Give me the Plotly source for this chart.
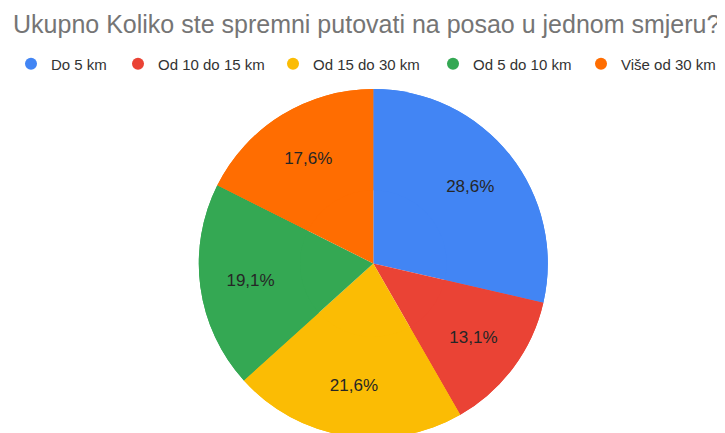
import plotly.graph_objects as go

labels = ["Do 5 km", "Od 10 do 15 km", "Od 15 do 30 km", "Od 5 do 10 km", "Više od 30 km"]
values = [28.6, 13.1, 21.6, 19.1, 17.6]
colors = ["#4285F4", "#EA4335", "#FBBC04", "#34A853", "#FF6D01"]
title = "Ukupno Koliko ste spremni putovati na posao u jednom smjeru?"

W, H = 725, 433
# page is offset by the default 8px body margin
OFF = 8
cx, cy, r = 373.3 - OFF, 263.5 - OFF, 174.5
dom = dict(x=[(cx - r) / W, (cx + r) / W], y=[(H - (cy + r)) / H, (H - (cy - r)) / H])

fig = go.Figure()
# full pie (colours)
fig.add_trace(go.Pie(
    labels=labels, values=values, sort=False, direction="clockwise", rotation=0,
    marker=dict(colors=colors, line=dict(width=0)),
    textinfo="none", showlegend=False, hoverinfo="label+percent", domain=dom,
))
# ring overlay carrying the percentage labels further out
fig.add_trace(go.Pie(
    labels=labels, values=values, sort=False, direction="clockwise", rotation=0,
    hole=0.42,
    marker=dict(colors=colors, line=dict(width=0)),
    texttemplate="%{percent:.1%}", textposition="inside",
    insidetextorientation="horizontal",
    textfont=dict(family="Liberation Sans, Arial", size=17, color="#262626"),
    showlegend=False, hoverinfo="skip", domain=dom,
))

legend_x = [33, 140, 295, 455, 603]  # circle centres (page px)
layout_legends = {}
for i, (lab, col, lx) in enumerate(zip(labels, colors, legend_x)):
    key = "legend" if i == 0 else f"legend{i + 1}"
    fig.add_trace(go.Scatter(
        x=[None], y=[None], mode="markers", name=lab, legend=key,
        marker=dict(symbol="circle", size=13, color=col),
    ))
    layout_legends[key] = dict(
        orientation="h", x=(lx - OFF - 22) / W, xanchor="left",
        y=1 - (64 - OFF) / H, yanchor="middle",
        font=dict(family="Liberation Sans, Arial", size=15, color="#333333"),
        itemsizing="constant", bgcolor="rgba(0,0,0,0)",
    )

fig.update_layout(
    width=W, height=H, margin=dict(l=0, r=0, t=0, b=0),
    paper_bgcolor="white", plot_bgcolor="white",
    separators=",.",
    title=dict(text=title, x=0.007, xanchor="left", y=1 - 24.5 / H, yanchor="bottom",
               font=dict(family="Liberation Sans, Arial", size=25, color="#757575")),
    xaxis=dict(visible=False), yaxis=dict(visible=False),
    **layout_legends,
)
fig.write_html("out.html")
